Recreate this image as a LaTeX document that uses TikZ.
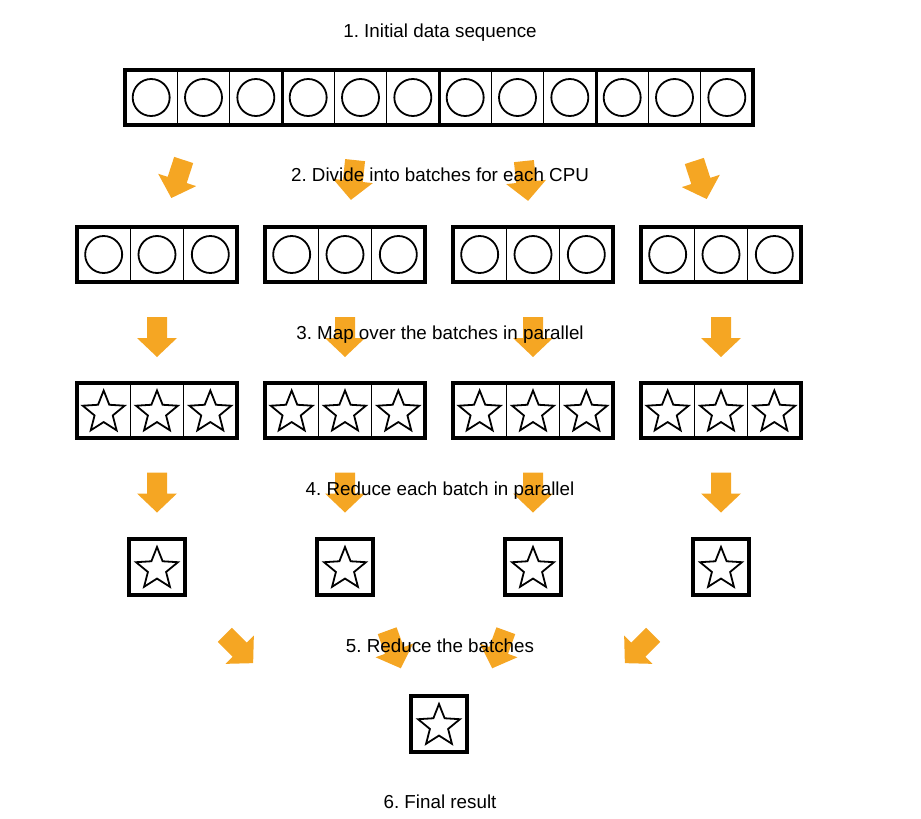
\documentclass[tikz,border=0pt]{standalone}
\usepackage{fontspec}
\setmainfont{Liberation Sans}
\usetikzlibrary{shapes.geometric}
\definecolor{arroworange}{RGB}{245,166,35}
\frenchspacing
\begin{document}
\begin{tikzpicture}[x=1pt,y=-1pt,
  steplabel/.style={font=\fontsize{18.8}{22}\selectfont, anchor=base, inner sep=0pt},
  frame/.style={draw, line width=4pt, minimum height=55pt, inner sep=0pt},
  cellline/.style={line width=1.5pt},
  groupline/.style={line width=3pt},
  dot/.style={circle, draw, line width=1.8pt, minimum size=37pt, inner sep=0pt},
  starmark/.style={star, star points=5, star point ratio=2.3, draw, line width=1.8pt, minimum size=44pt, inner sep=0pt},
  fatarrow/.pic={\fill[arroworange] (-10,-20) -- (10,-20) -- (10,1) -- (20,1) -- (0,20) -- (-20,1) -- (-10,1) -- cycle;}
]
\useasboundingbox (0,0) rectangle (921,819);

% block arrows between the stages (drawn first, the step texts lie on top)
\pic[rotate=-18] at (177.5,179) {fatarrow};
\pic[rotate=-6]  at (353,180)   {fatarrow};
\pic[rotate=6]   at (526,181)   {fatarrow};
\pic[rotate=18]  at (700.5,180) {fatarrow};
\foreach \x in {157,345,533,721} {
  \pic at (\x,337)   {fatarrow};
  \pic at (\x,492.5) {fatarrow};
}
\pic[rotate=45]  at (239,649)   {fatarrow};
\pic[rotate=20]  at (394,649.5) {fatarrow};
\pic[rotate=-20] at (499,649.5) {fatarrow};
\pic[rotate=-45] at (639,649)   {fatarrow};

% 1. the whole sequence: 12 cells in 4 groups
\foreach \k in {0,...,11}
  \node[dot] (c\k) at (151.17+52.333*\k, 97.5) {};
\foreach \k in {1,2,4,5,7,8,10,11}
  \draw[cellline] (125+52.333*\k,70) -- (125+52.333*\k,125);
\foreach \k in {3,6,9}
  \draw[groupline] (125+52.333*\k,70) -- (125+52.333*\k,125);
\node[frame, minimum width=628pt] (seq) at (439,97.5) {};

% 2./3. one batch per CPU, before and after the map
\foreach \i/\x in {1/157,2/345,3/533,4/721} {
  \node[frame, minimum width=160pt] (b\i) at (\x,254.5) {};
  \node[frame, minimum width=160pt] (m\i) at (\x,410.5) {};
  \foreach \d in {-26.67,26.67} {
    \draw[cellline] ([xshift=\d pt]b\i.north) -- ([xshift=\d pt]b\i.south);
    \draw[cellline] ([xshift=\d pt]m\i.north) -- ([xshift=\d pt]m\i.south);
  }
  \foreach \j/\d in {1/-53.33,2/0,3/53.33} {
    \node[dot] (b\i c\j) at (\x+\d,254.5) {};
    \node[starmark] (m\i s\j) at (\x+\d,412.5) {};
  }
  % 4. each batch reduced to one value
  \node[frame, minimum width=56pt, minimum height=56pt] (r\i) at (\x,567) {};
  \node[starmark] (r\i s) at (\x,569) {};
}

% 6. the final result
\node[frame, minimum width=56pt, minimum height=56pt] (res) at (439,724) {};
\node[starmark] (ress) at (439,726) {};

% step texts
\node[steplabel] (t1) at (440,37)  {1. Initial data sequence};
\node[steplabel] (t2) at (440,181) {2. Divide into batches for each CPU};
\node[steplabel] (t3) at (440,339) {3. Map over the batches in parallel};
\node[steplabel] (t4) at (440,495) {4. Reduce each batch in parallel};
\node[steplabel] (t5) at (440,652) {5. Reduce the batches};
\node[steplabel] (t6) at (440,808) {6. Final result};
\end{tikzpicture}
\end{document}
